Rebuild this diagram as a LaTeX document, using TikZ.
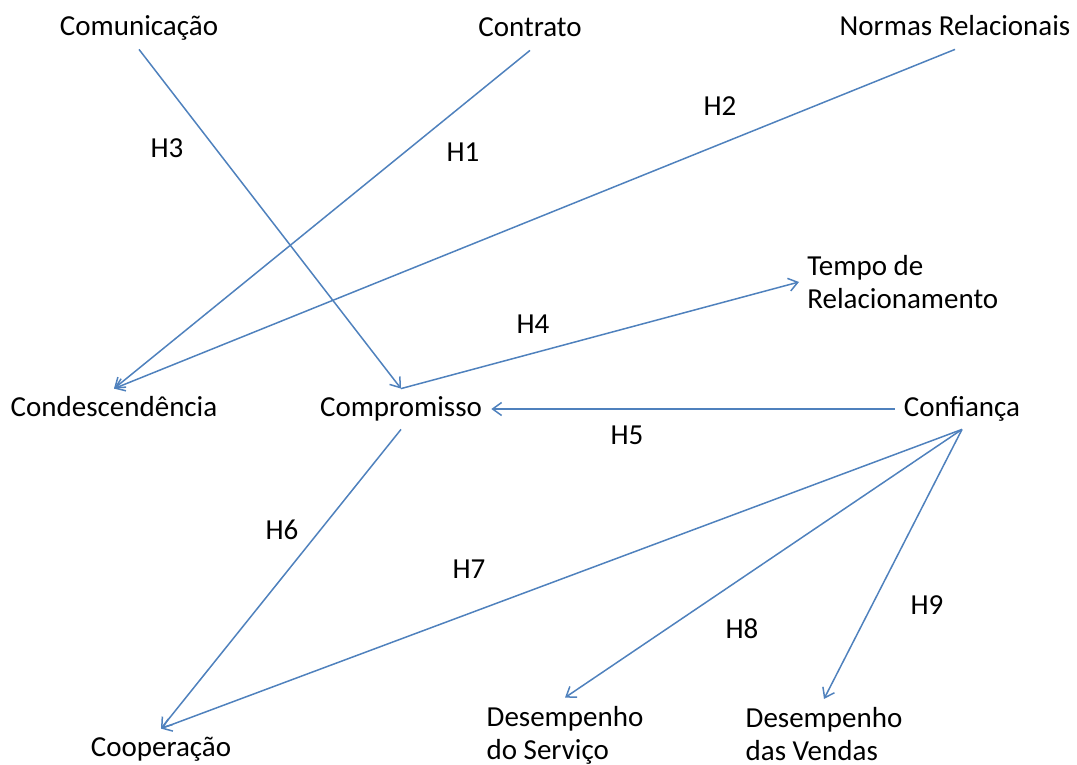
\documentclass[tikz,border=0pt]{standalone}
\usepackage{fontspec}
\setmainfont{Carlito}
\usetikzlibrary{arrows.meta}
\definecolor{linhaazul}{RGB}{79,129,189}
\tikzset{
  conceito/.style={inner sep=4.5pt, text height=0.9em, text depth=0.2em},
  conceito2/.style={inner sep=4pt, align=left},
  hip/.style={->, draw=linhaazul, line width=0.75pt}
}
\begin{document}
\begin{tikzpicture}[x=0.5pt, y=-0.5pt, >={Straight Barb[length=4.5pt,width=6.5pt]},
  every node/.style={font=\fontsize{14.5}{16.5}\selectfont}]
\useasboundingbox (0,0) rectangle (1077,765);
% constructos
\node[conceito] (com) at (139,29) {Comunicação};
\node[conceito] (ctr) at (530,30) {Contrato};
\node[conceito] (nor) at (955,29) {Normas Relacionais};
\node[conceito] (cond) at (114,409) {Condescendência};
\node[conceito] (cmp) at (401,409) {Compromisso};
\node[conceito] (conf) at (962,409) {Confiança};
\node[conceito] (coop) at (161,749) {Cooperação};
\node[conceito2, anchor=west] (tempo) at (799,282) {Tempo de\\Relacionamento};
\node[conceito2] (dserv) at (565,735) {Desempenho\\do Serviço};
\node[conceito2] (dvend) at (824,734) {Desempenho\\das Vendas};
% hipoteses
\draw[hip] (ctr.south) -- (cond.north);
\draw[hip] (nor.south) -- (cond.north);
\draw[hip] (com.south) -- (cmp.north);
\draw[hip] (cmp.north) -- (tempo.west);
\draw[hip] (conf.west) -- (cmp.east);
\draw[hip] (cmp.south) -- (coop.north);
\draw[hip] (conf.south) -- (coop.north);
\draw[hip] (conf.south) -- (dserv.north);
\draw[hip] (conf.south) -- (dvend.north);
\foreach \h/\x/\y in {H1/463/152, H2/720/106, H3/167/148, H4/533/324, H5/627/435,
                      H6/282/530, H7/469/569, H8/742/629, H9/927/605}
{
    \node (\h) at (\x,\y) {\h};
}
\end{tikzpicture}
\end{document}
